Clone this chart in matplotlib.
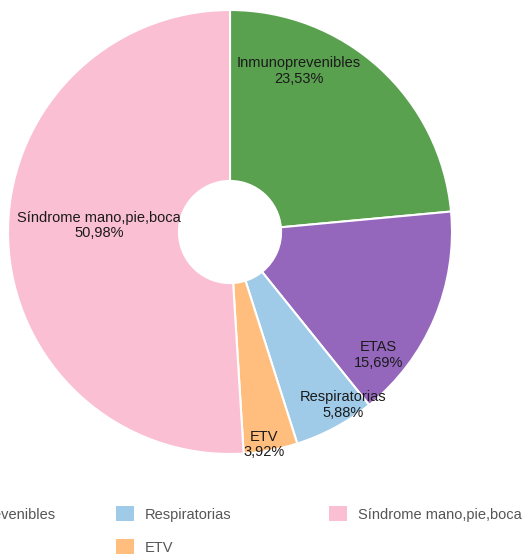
import matplotlib.pyplot as plt
from matplotlib.patches import Patch

plt.rcParams['font.family'] = ['Liberation Sans', 'DejaVu Sans']

categories = ['Inmunoprevenibles', 'ETAS', 'Respiratorias', 'ETV', 'Síndrome mano,pie,boca']
values = [23.53, 15.69, 5.88, 3.92, 50.98]
colors = ['#59A14F', '#9467BD', '#A0CBE8', '#FFBE7D', '#FABFD2']

# label anchor points in pie units (radius = 1)
label_pos = [(0.31, 0.725), (0.667, -0.554), (0.51, -0.779), (0.153, -0.957), (-0.59, 0.03)]

W, H = 523, 557
fig = plt.figure(figsize=(W / 100, H / 100), dpi=100)
cx, cy, r = 230, 232, 222
ax = fig.add_axes([(cx - r) / W, (H - cy - r) / H, 2 * r / W, 2 * r / H])

wedges, _ = ax.pie(values, colors=colors, startangle=90, counterclock=False,
                   radius=1, wedgeprops=dict(width=1 - 0.23, edgecolor='white', linewidth=1.5))
ax.set_xlim(-1, 1)
ax.set_ylim(-1, 1)
ax.set_aspect('auto')
ax.axis('off')

for name, v, (x, y) in zip(categories, values, label_pos):
    txt = name + '\n' + ('%.2f' % v).replace('.', ',') + '%'
    ax.text(x, y, txt, ha='center', va='center', fontsize=10.5, color='#1a1a1a',
            linespacing=1.15)

# legend: fixed-width columns, row-major order
legend_cols = [['Inmunoprevenibles', 'ETAS'], ['Respiratorias', 'ETV'], ['Síndrome mano,pie,boca']]
col_x = [-97, 116, 329]
for names, x in zip(legend_cols, col_x):
    handles = [Patch(facecolor=colors[categories.index(n)], edgecolor='none') for n in names]
    fig.legend(handles, names, loc='upper left', bbox_to_anchor=(x / W, 1 - 506 / H),
               frameon=False, fontsize=10.5, labelcolor='#555555', borderpad=0,
               handlelength=1.23, handleheight=1.23, handletextpad=0.75,
               labelspacing=1.2, borderaxespad=0)

fig.savefig('out.png', dpi=100)
